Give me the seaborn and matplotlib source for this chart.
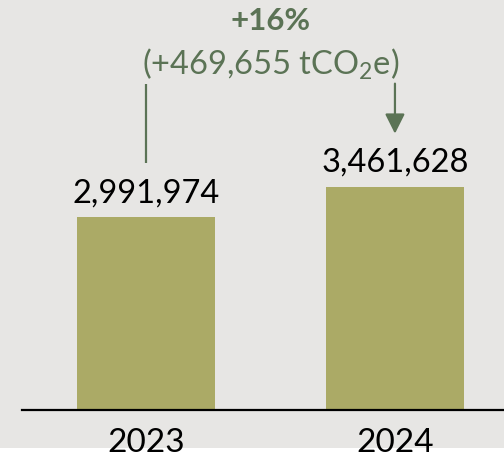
import matplotlib
matplotlib.use("Agg")
import matplotlib.pyplot as plt
from matplotlib.patches import Rectangle
import seaborn as sns
import pandas as pd

years = ["2023", "2024"]
emissions = [2991974, 3461628]
change_pct = "+16%"
change_abs = 469655

BAR = "#ABAA66"
BG = "#E7E6E4"
GREEN = "#5B7355"

sns.set_theme(style="white")
plt.rcParams["font.family"] = ["Lato", "DejaVu Sans"]
plt.rcParams["mathtext.fontset"] = "custom"
plt.rcParams["mathtext.rm"] = "Lato"
plt.rcParams["mathtext.default"] = "regular"

W, H = 504, 458
fig = plt.figure(figsize=(W / 100, H / 100), dpi=100, facecolor=BG)
fig.patches.append(Rectangle((0, 0), 1, 10 / H, transform=fig.transFigure,
                             facecolor="white", edgecolor="none", zorder=-1))

ax = fig.add_axes([22 / W, 1 - 410 / H, 1 - 22 / W, 410 / H])
ax.set_facecolor("none")

df = pd.DataFrame({"year": years, "value": emissions})
sns.barplot(data=df, x="year", y="value", color=BAR, saturation=1,
            width=0.554, edgecolor="none", linewidth=0, ax=ax)

ax.set_xlim(-0.498, 1.438)
ax.set_ylim(0, 6.352e6)

for s in ["left", "right", "top"]:
    ax.spines[s].set_visible(False)
ax.spines["bottom"].set_color("black")
ax.spines["bottom"].set_linewidth(1.6)
ax.spines["bottom"].set_zorder(5)
ax.set_yticks([])
ax.set_xlabel("")
ax.set_ylabel("")
ax.tick_params(axis="x", length=0, pad=13, labelsize=24, labelcolor="black")

for i, v in enumerate(emissions):
    ax.annotate(f"{v:,}", xy=(i, v), xytext=(0, 10.5), textcoords="offset points",
                ha="center", va="baseline", fontsize=23.5, color="black")

# change annotation: line from the 2023 bar, arrow into the 2024 bar
tr = ax.get_xaxis_transform()
ax.plot([0, 0], [0.602, 0.795], transform=tr, color=GREEN, lw=1.6,
        solid_capstyle="butt", clip_on=False)
ax.annotate("", xy=(1, 0.674), xycoords=tr, xytext=(1, 0.796), textcoords=tr,
            arrowprops=dict(arrowstyle="-|>,head_length=1.0,head_width=0.5",
                            color=GREEN, lw=1.6, shrinkA=0, shrinkB=0))

ax.text(0.5, 0.949, change_pct, transform=tr, ha="center", va="center",
        fontsize=22.5, fontweight="bold", color=GREEN)
ax.text(0.5, 0.844, f"(+{change_abs:,} tCO$_2$e)", transform=tr,
        ha="center", va="center", fontsize=23.5, color=GREEN)

fig.savefig("out.png", dpi=100, facecolor=BG)
